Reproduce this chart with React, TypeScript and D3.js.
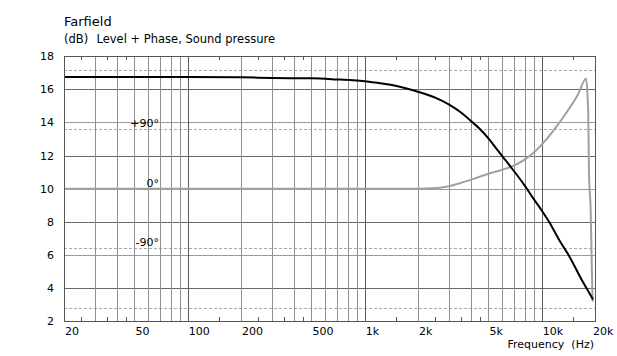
import React from "react";
import * as d3 from "d3";

const levelFreq = [20, 100, 200, 300, 500, 700, 850, 1000, 1200, 1400, 1600, 2000, 2500, 3000, 3500, 4000, 4500, 5000, 5500, 6000, 6700, 8000, 9000, 10000, 11000, 12700, 14200, 17000, 18100, 19500];
const levelDb = [16.75, 16.75, 16.73, 16.69, 16.67, 16.6, 16.55, 16.49, 16.38, 16.28, 16.15, 15.86, 15.5, 15.08, 14.6, 14.07, 13.58, 13.04, 12.47, 11.95, 11.3, 10.2, 9.38, 8.68, 8.0, 6.8, 5.98, 4.4, 3.9, 3.3];

const phaseFreq = [20, 1000, 2000, 2400, 2900, 3400, 4300, 5000, 5800, 6700, 7800, 8900, 10000, 11500, 14300, 16000, 17800, 18300, 18500, 18900, 19200, 19400];
const phaseDeg = [0, 0, 0, 0.5, 3, 7.8, 16.5, 22.5, 27.5, 33, 42, 53, 66.5, 85.8, 121, 142, 166, 118, 23, -32, -123, -171];

const xLabelVals = [20, 50, 100, 200, 500, 1000, 2000, 5000, 10000, 20000];
const xLabelText = ["20", "50", "100", "200", "500", "1k", "2k", "5k", "10k", "20k"];
const yTickVals = [2, 4, 6, 8, 10, 12, 14, 16, 18];
const phaseLines = [180, 90, -90, -180];
const phaseLabelVals = [90, 0, -90];
const phaseLabelText = ["+90°", "0°", "-90°"];
const minorTickVals = [25, 35, 45, 150, 250, 350, 450, 1500, 2500, 3500, 4500, 15000];

const FONT = "'DejaVu Sans', Verdana, sans-serif";

export default function App() {
  const W = 617, H = 356;
  const L = 64, R = 595, T = 56.3, B = 321;
  const x = d3.scaleLog().domain([20, 20000]).range([L, R]);
  const y = d3.scaleLinear().domain([2, 18]).range([B, T]);
  const yp = d3.scaleLinear().domain([-180, 180]).range([y(2.8), y(17.2)]);

  const gridFreqs: number[] = [];
  for (const dec of [10, 100, 1000]) {
    for (let k = 1; k <= 9; k++) {
      const f = dec * k;
      if (f > 20 && f < 20000) gridFreqs.push(f);
    }
  }
  gridFreqs.push(10000);
  const px = (v: number) => Math.round(v) + 0.5;

  const levelData = levelFreq.map((f, i) => [f, levelDb[i]] as [number, number]);
  const phaseData = phaseFreq.map((f, i) => [f, phaseDeg[i]] as [number, number]);
  const levelLine = d3.line<[number, number]>().x(d => x(d[0])).y(d => y(d[1])).curve(d3.curveMonotoneX);
  const phaseLine = d3.line<[number, number]>().x(d => x(d[0])).y(d => yp(d[1])).curve(d3.curveMonotoneX);

  const isDecade = (f: number) => f === 100 || f === 1000 || f === 10000;

  return (
    <svg width={W} height={H} style={{ position: "absolute", left: 0, top: 0, background: "#fff" }} fontFamily={FONT}>
      <rect x={0} y={0} width={W} height={H} fill="#fff" />
      <defs>
        <clipPath id="plotClip">
          <rect x={L} y={T} width={R - L} height={B - T} />
        </clipPath>
      </defs>
      <text x={64} y={26} fontSize={13} fill="#000">Farfield</text>
      <text x={64} y={43} fontSize={11.5} fill="#000">(dB)</text>
      <text x={96.5} y={43} fontSize={11.5} fill="#000">Level + Phase, Sound pressure</text>

      {/* horizontal grid */}
      {yTickVals.filter(v => v > 2 && v < 18).map(v => (
        <line key={"h" + v} x1={L} x2={R} y1={px(y(v))} y2={px(y(v))}
          stroke={v % 4 === 0 ? "#6a6a6a" : "#9a9a9a"} strokeWidth={1} shapeRendering="crispEdges" />
      ))}
      {/* phase dashed */}
      {phaseLines.map(p => (
        <line key={"p" + p} x1={L} x2={R} y1={px(yp(p))} y2={px(yp(p))}
          stroke="#a8a8a8" strokeWidth={1} strokeDasharray="3,2" shapeRendering="crispEdges" />
      ))}
      {/* vertical grid */}
      {gridFreqs.map(f => (
        <line key={"v" + f} x1={px(x(f))} x2={px(x(f))} y1={T} y2={B}
          stroke={isDecade(f) ? "#5a5a5a" : "#909090"} strokeWidth={1} shapeRendering="crispEdges" />
      ))}
      {/* minor ticks */}
      {minorTickVals.map(f => (
        <g key={"t" + f}>
          <line x1={px(x(f))} x2={px(x(f))} y1={T} y2={T + 4} stroke="#555" shapeRendering="crispEdges" />
          <line x1={px(x(f))} x2={px(x(f))} y1={B - 4} y2={B} stroke="#555" shapeRendering="crispEdges" />
        </g>
      ))}

      {/* phase labels */}
      {phaseLabelVals.map((p, i) => (
        <text key={"pl" + p} x={159} y={yp(p) - 2} fontSize={11} textAnchor="end" fill="#000">{phaseLabelText[i]}</text>
      ))}

      <g clipPath="url(#plotClip)">
        <path d={phaseLine(phaseData) || ""} fill="none" stroke="#a0a0a0" strokeWidth={2} />
        <path d={levelLine(levelData) || ""} fill="none" stroke="#000" strokeWidth={2} />
      </g>

      {/* frame */}
      <rect x={px(L)} y={px(T)} width={Math.round(R - L)} height={Math.round(B - T)} fill="none" stroke="#555" strokeWidth={1} shapeRendering="crispEdges" />

      {/* y labels */}
      {yTickVals.map(v => (
        <text key={"yl" + v} x={54} y={y(v) + 4} fontSize={11} textAnchor="end" fill="#000">{v}</text>
      ))}
      {/* x labels */}
      {xLabelVals.map((f, i) => (
        <text key={"xl" + f} x={i === xLabelVals.length - 1 ? x(f) - 2 : x(f) + 1} y={335} fontSize={11} fill="#000">{xLabelText[i]}</text>
      ))}
      <text x={594} y={348} fontSize={11} textAnchor="end" fill="#000" style={{ whiteSpace: "pre" }}>{"Frequency  (Hz)"}</text>
    </svg>
  );
}
